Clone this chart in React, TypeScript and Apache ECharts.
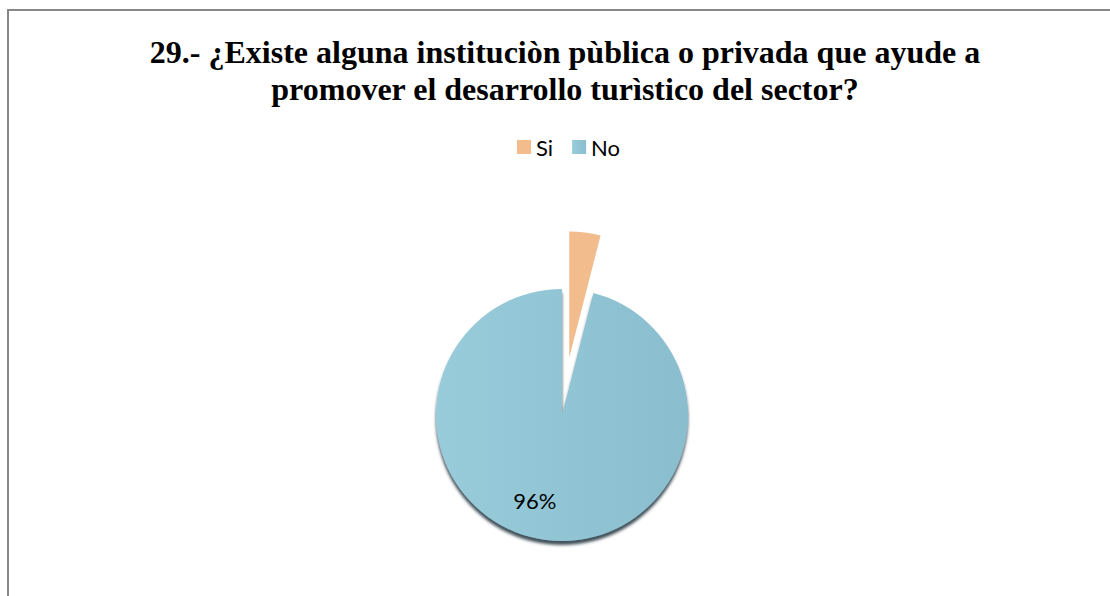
import React, { useEffect, useRef } from "react";
import * as echarts from "echarts";

const titleLines = [
  "29.- ¿Existe alguna instituciòn pùblica o privada que ayude a",
  "promover el desarrollo turìstico del sector?",
];
const categories = ["Si", "No"];
const values = [4, 96];

export default function App() {
  const ref = useRef<HTMLDivElement>(null);
  useEffect(() => {
    if (!ref.current) return;
    const chart = echarts.init(ref.current, undefined, { renderer: "svg" });
    const colors = [
      "#F2BC8C",
      new echarts.graphic.LinearGradient(0, 0, 1, 0, [
        { offset: 0, color: "#98CCDB" },
        { offset: 1, color: "#8ABECE" },
      ]),
    ];
    chart.setOption({
      animation: false,
      backgroundColor: "#ffffff",
      title: {
        text: titleLines.join("\n"),
        left: 565,
        top: 33,
        textAlign: "center",
        padding: 0,
        textStyle: {
          fontFamily: "Liberation Serif",
          fontWeight: "bold",
          fontSize: 32,
          lineHeight: 37,
          color: "#000",
        },
      },
      legend: {
        data: categories,
        left: 517,
        top: 136,
        padding: 0,
        itemWidth: 14,
        itemHeight: 14,
        itemGap: 19,
        icon: "rect",
        selectedMode: false,
        textStyle: { fontFamily: "Lato", fontSize: 22, color: "#000" },
      },
      graphic: [
        {
          type: "rect",
          shape: { x: 8, y: 10, width: 1200, height: 700 },
          style: { fill: "none", stroke: "#888888", lineWidth: 2 },
          silent: true,
        },
      ],
      series: [
        {
          type: "pie",
          center: [562, 415],
          radius: 126,
          startAngle: 90,
          clockwise: true,
          selectedMode: "single",
          selectedOffset: 58,
          emphasis: { disabled: true },
          labelLine: { show: false },
          label: {
            show: true,
            position: "inside",
            fontFamily: "Lato",
            fontSize: 22,
            color: "#000",
            formatter: (p: any) => `${Math.round(p.percent)}%`,
          },
          labelLayout: { dx: -19, dy: 20 },
          data: categories.map((name, i) => ({
            name,
            value: values[i],
            selected: i === 0,
            label: { show: i === 1 },
            itemStyle:
              i === 1
                ? {
                    color: colors[i],
                    shadowColor: "rgba(30,50,60,0.85)",
                    shadowOffsetY: 4,
                    shadowBlur: 3,
                  }
                : { color: colors[i] },
          })),
        },
      ],
    });
    return () => chart.dispose();
  }, []);
  return (
    <div
      ref={ref}
      style={{ position: "fixed", left: 0, top: 0, width: 1110, height: 596 }}
    />
  );
}
